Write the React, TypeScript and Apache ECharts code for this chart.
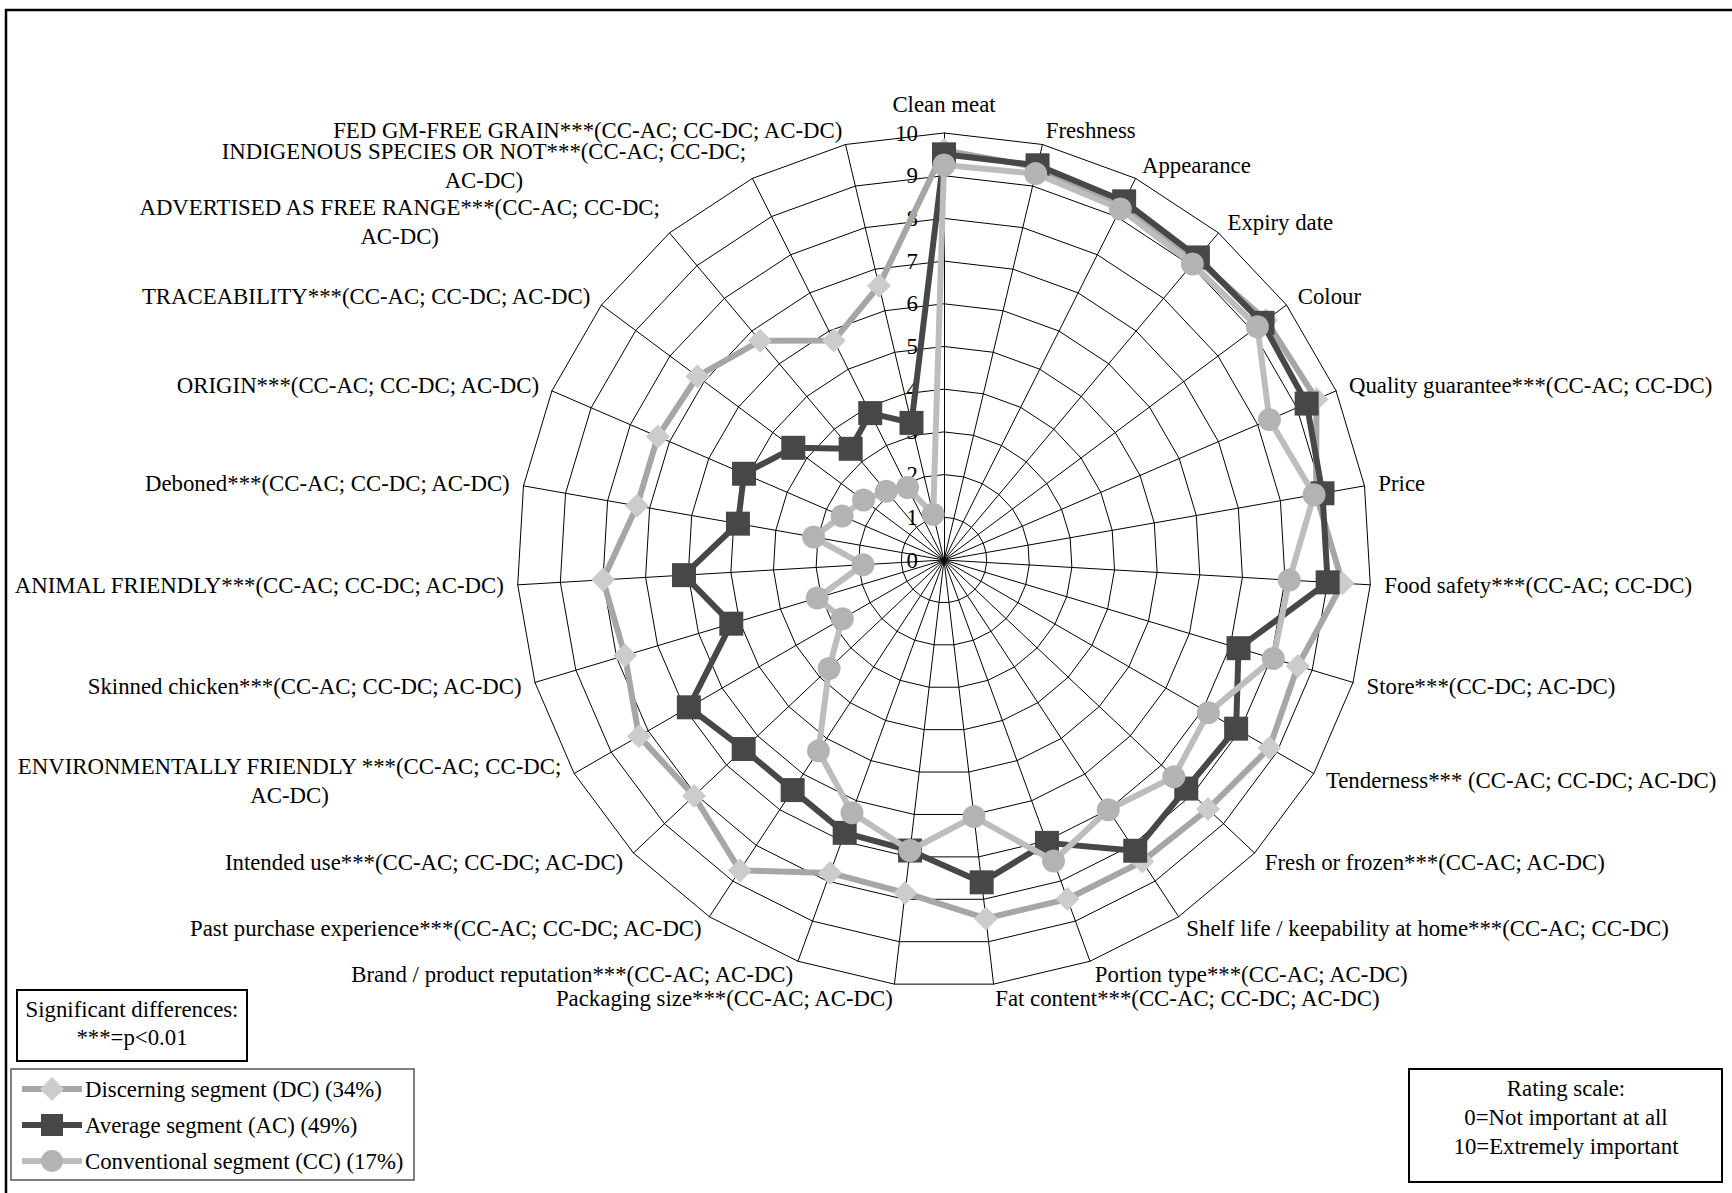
import React, { useEffect, useRef } from "react";
import * as echarts from "echarts";

// Categories listed clockwise from the top, as in the reference
const categories: string[] = [
  "Clean meat",
  "Freshness",
  "Appearance",
  "Expiry date",
  "Colour",
  "Quality guarantee***(CC-AC; CC-DC)",
  "Price",
  "Food safety***(CC-AC; CC-DC)",
  "Store***(CC-DC; AC-DC)",
  "Tenderness*** (CC-AC; CC-DC; AC-DC)",
  "Fresh or frozen***(CC-AC; AC-DC)",
  "Shelf life / keepability at home***(CC-AC; CC-DC)",
  "Portion type***(CC-AC; AC-DC)",
  "Fat content***(CC-AC; CC-DC; AC-DC)",
  "Packaging size***(CC-AC; AC-DC)",
  "Brand / product reputation***(CC-AC; AC-DC)",
  "Past purchase experience***(CC-AC; CC-DC; AC-DC)",
  "Intended use***(CC-AC; CC-DC; AC-DC)",
  "ENVIRONMENTALLY FRIENDLY ***(CC-AC; CC-DC;\nAC-DC)",
  "Skinned chicken***(CC-AC; CC-DC; AC-DC)",
  "ANIMAL FRIENDLY***(CC-AC; CC-DC; AC-DC)",
  "Deboned***(CC-AC; CC-DC; AC-DC)",
  "ORIGIN***(CC-AC; CC-DC; AC-DC)",
  "TRACEABILITY***(CC-AC; CC-DC; AC-DC)",
  "ADVERTISED AS FREE RANGE***(CC-AC; CC-DC;\nAC-DC)",
  "INDIGENOUS SPECIES OR NOT***(CC-AC; CC-DC;\nAC-DC)",
  "FED GM-FREE GRAIN***(CC-AC; CC-DC; AC-DC)",
];

const dcValues: number[] = [
  9.6, 9.45, 9.3, 9.2, 9.4, 9.5, 8.85, 9.35, 8.65, 8.8, 8.5, 8.45, 8.45, 8.45,
  7.85, 7.8, 8.7, 8.05, 8.25, 7.8, 8.0, 7.3, 7.3, 7.2, 6.7, 5.75, 6.6,
];
const acValues: number[] = [
  9.5, 9.5, 9.4, 9.25, 9.3, 9.25, 9.0, 9.0, 7.2, 7.9, 7.8, 8.15, 7.05, 7.6,
  6.85, 6.8, 6.45, 6.45, 6.9, 5.2, 6.1, 4.9, 5.1, 4.4, 3.4, 3.85, 3.3,
];
const ccValues: number[] = [
  9.25, 9.3, 9.2, 9.05, 9.15, 8.3, 8.8, 8.1, 8.05, 7.15, 7.4, 7.0, 7.5, 6.05,
  6.85, 6.3, 5.35, 3.7, 2.75, 3.1, 1.9, 3.1, 2.6, 2.35, 2.1, 1.9, 1.1,
];

const seriesNames: string[] = [
  "Discerning segment (DC) (34%)",
  "Average segment (AC) (49%)",
  "Conventional segment (CC) (17%)",
];

const sigLines: string[] = ["Significant differences:", "***=p<0.01"];
const scaleLines: string[] = [
  "Rating scale:",
  "0=Not important at all",
  "10=Extremely important",
];

const FONT = '"Liberation Serif", "Times New Roman", serif';
const FS = 22.8;

const lineColors = ["#a6a6a6", "#474747", "#bdbdbd"];
const markerColors = ["#cccccc", "#474747", "#b3b3b3"];
const symbols = ["diamond", "rect", "circle"];
const symbolSizes = [24, 24, 23];

// ECharts radar lays indicators out counter-clockwise; reorder so that the
// reference's clockwise order is reproduced (first item stays at the top).
function clockwiseOrder<T>(arr: T[]): T[] {
  return [arr[0], ...arr.slice(1).reverse()];
}

export default function App() {
  const ref = useRef<HTMLDivElement>(null);

  useEffect(() => {
    if (!ref.current) return;
    const chart = echarts.init(ref.current, undefined, { renderer: "svg" });

    const allValues = [dcValues, acValues, ccValues];
    const cats = clockwiseOrder(categories);

    const legendItems: any[] = [];
    seriesNames.forEach((name, i) => {
      const y = 1089 + 36 * i;
      legendItems.push({
        type: "line",
        shape: { x1: 22, y1: y, x2: 82, y2: y },
        style: { stroke: lineColors[i], lineWidth: 6 },
      });
      if (symbols[i] === "diamond") {
        legendItems.push({
          type: "polygon",
          shape: {
            points: [
              [52, y - 12],
              [64, y],
              [52, y + 12],
              [40, y],
            ],
          },
          style: { fill: markerColors[i] },
        });
      } else if (symbols[i] === "rect") {
        legendItems.push({
          type: "rect",
          shape: { x: 41, y: y - 11, width: 22, height: 22 },
          style: { fill: markerColors[i] },
        });
      } else {
        legendItems.push({
          type: "circle",
          shape: { cx: 52, cy: y, r: 11 },
          style: { fill: markerColors[i] },
        });
      }
      legendItems.push({
        type: "text",
        x: 85,
        y: y,
        style: {
          text: name,
          font: `${FS}px ${FONT}`,
          fill: "#000",
          textAlign: "left",
          textVerticalAlign: "middle",
        },
      });
    });

    const option: any = {
      animation: false,
      backgroundColor: "#ffffff",
      textStyle: { fontFamily: FONT },
      radar: {
        center: [944, 560],
        radius: 427,
        startAngle: 90,
        splitNumber: 10,
        shape: "polygon",
        nameGap: 14,
        indicator: cats.map((name, i) =>
          i === 0
            ? { name, min: 0, max: 10, axisLabel: { show: true } }
            : { name, min: 0, max: 10 }
        ),
        axisName: {
          color: "#000",
          fontFamily: FONT,
          fontSize: FS,
          lineHeight: 29,
          formatter: (value: string) => {
            if (value.indexOf("\n") >= 0) {
              return value
                .split("\n")
                .map((l) => `{c|${l}}`)
                .join("\n");
            }
            return value;
          },
          rich: {
            c: {
              align: "center",
              color: "#000",
              fontFamily: FONT,
              fontSize: FS,
              lineHeight: 29,
            },
          },
        },
        axisLine: { lineStyle: { color: "#000", width: 1 } },
        splitLine: { lineStyle: { color: "#000", width: 1 } },
        splitArea: { show: false },
        axisTick: { show: false },
        axisLabel: {
          show: false,
          color: "#000",
          fontFamily: FONT,
          fontSize: FS,
          margin: 26,
        },
      },
      series: allValues.map((vals, i) => ({
        type: "radar",
        name: seriesNames[i],
        symbol: symbols[i],
        symbolSize: symbolSizes[i],
        silent: true,
        z: 2 + i,
        lineStyle: { color: lineColors[i], width: 6 },
        itemStyle: { color: markerColors[i] },
        emphasis: { disabled: true },
        data: [{ value: clockwiseOrder(vals), name: seriesNames[i] }],
      })),
      graphic: [
        {
          type: "rect",
          shape: { x: 6, y: 10, width: 1740, height: 1200 },
          style: { fill: "none", stroke: "#000", lineWidth: 2.5 },
          silent: true,
        },
        {
          type: "rect",
          shape: { x: 17, y: 990, width: 230, height: 71 },
          style: { fill: "none", stroke: "#000", lineWidth: 2 },
        },
        ...sigLines.map((t, k) => ({
          type: "text",
          x: 132,
          y: 1009 + 28 * k,
          style: {
            text: t,
            font: `${FS}px ${FONT}`,
            fill: "#000",
            textAlign: "center",
            textVerticalAlign: "middle",
          },
        })),
        {
          type: "rect",
          shape: { x: 11, y: 1069, width: 403, height: 111 },
          style: { fill: "none", stroke: "#555", lineWidth: 1.5 },
        },
        ...legendItems,
        {
          type: "rect",
          shape: { x: 1409, y: 1069, width: 313, height: 113 },
          style: { fill: "none", stroke: "#000", lineWidth: 2 },
        },
        ...scaleLines.map((t, k) => ({
          type: "text",
          x: 1566,
          y: 1088 + 29 * k,
          style: {
            text: t,
            font: `${FS}px ${FONT}`,
            fill: "#000",
            textAlign: "center",
            textVerticalAlign: "middle",
          },
        })),
      ],
    };

    chart.setOption(option);
    return () => {
      chart.dispose();
    };
  }, []);

  return (
    <div
      ref={ref}
      style={{
        position: "absolute",
        left: 0,
        top: 0,
        width: 1732,
        height: 1193,
        background: "#fff",
      }}
    />
  );
}
